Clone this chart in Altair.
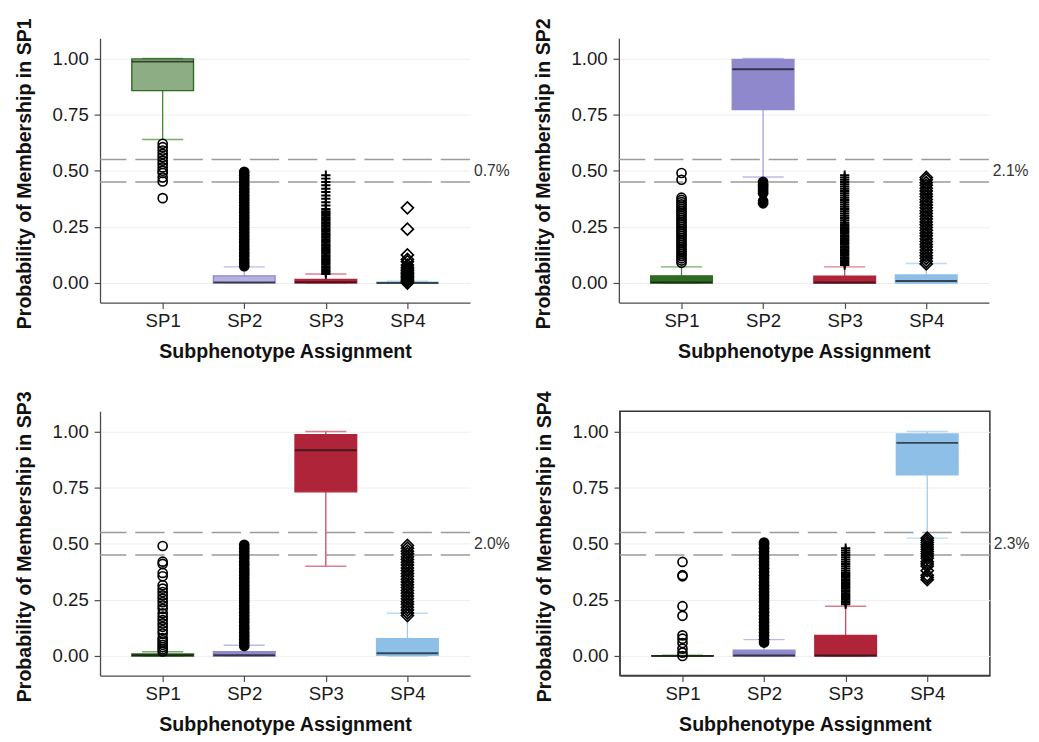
import altair as alt
import pandas as pd

groups = ["SP1", "SP2", "SP3", "SP4"]
panels = ["SP1", "SP2", "SP3", "SP4"]
percent_labels = ["0.7%", "2.1%", "2.0%", "2.3%"]
thresholds = [0.45, 0.55]
y_ticks = [0.0, 0.25, 0.5, 0.75, 1.0]

# box statistics per panel, per group: [lower whisker, q1, median, q3, upper whisker]
stats_p1 = [[0.639, 0.857, 0.986, 0.998, 1.0], [0.0, 0.0, 0.003, 0.032, 0.072],
            [0.0, 0.0, 0.004, 0.016, 0.040], [0.0, 0.0, 0.0, 0.004, 0.008]]
stats_p2 = [[0.0, 0.0, 0.003, 0.032, 0.072], [0.472, 0.773, 0.952, 0.996, 1.0],
            [0.0, 0.0, 0.002, 0.030, 0.072], [0.0, 0.0, 0.009, 0.036, 0.087]]
stats_p3 = [[0.0, 0.0, 0.003, 0.009, 0.019], [0.0, 0.0, 0.003, 0.019, 0.048],
            [0.40, 0.731, 0.916, 0.986, 1.0], [0.0, 0.003, 0.012, 0.077, 0.19]]
stats_p4 = [[0.0, 0.0, 0.0, 0.002, 0.004], [0.0, 0.0, 0.002, 0.026, 0.073],
            [0.0, 0.0, 0.002, 0.092, 0.222], [0.525, 0.807, 0.949, 0.989, 1.0]]

# outliers per panel, per group
out_p1 = [
    [0.378, 0.452, 0.47, 0.49, 0.50, 0.515, 0.53, 0.545, 0.56, 0.575, 0.59, 0.605, 0.62],
    [0.075, 0.09, 0.105, 0.12, 0.135, 0.15, 0.165, 0.18, 0.195, 0.21, 0.225, 0.24, 0.255, 0.27,
     0.285, 0.30, 0.315, 0.33, 0.345, 0.36, 0.375, 0.39, 0.405, 0.42, 0.435, 0.45, 0.465, 0.48, 0.495],
    [0.04, 0.047, 0.054, 0.061, 0.068, 0.075, 0.082, 0.089, 0.096, 0.103, 0.11, 0.117, 0.124, 0.131,
     0.138, 0.145, 0.152, 0.159, 0.166, 0.173, 0.18, 0.187, 0.194, 0.201, 0.208, 0.215, 0.222, 0.229,
     0.236, 0.243, 0.25, 0.257, 0.264, 0.271, 0.278, 0.285, 0.292, 0.299, 0.306, 0.313, 0.32, 0.33,
     0.345, 0.36, 0.375, 0.39, 0.405, 0.42, 0.435, 0.45, 0.465, 0.48],
    [0.0, 0.006, 0.012, 0.018, 0.024, 0.03, 0.036, 0.042, 0.048, 0.055, 0.062, 0.07, 0.08, 0.095,
     0.105, 0.125, 0.24, 0.335],
]
out_p2 = [
    [0.09, 0.10, 0.11, 0.12, 0.13, 0.14, 0.15, 0.16, 0.17, 0.18, 0.19, 0.20, 0.21, 0.22, 0.23, 0.24,
     0.25, 0.26, 0.27, 0.28, 0.29, 0.30, 0.31, 0.32, 0.33, 0.34, 0.35, 0.36, 0.37, 0.38, 0.46, 0.49],
    [0.355, 0.365, 0.40, 0.41, 0.42, 0.43, 0.44, 0.45],
    [0.08, 0.087, 0.094, 0.101, 0.108, 0.115, 0.122, 0.129, 0.136, 0.143, 0.15, 0.157, 0.164, 0.171,
     0.178, 0.185, 0.192, 0.199, 0.206, 0.213, 0.22, 0.227, 0.234, 0.241, 0.248, 0.255, 0.262, 0.27,
     0.28, 0.29, 0.30, 0.31, 0.32, 0.33, 0.34, 0.35, 0.36, 0.37, 0.38, 0.39, 0.40, 0.41, 0.42, 0.43,
     0.44, 0.45, 0.46, 0.47, 0.48],
    [0.085, 0.097, 0.11, 0.122, 0.135, 0.147, 0.16, 0.172, 0.185, 0.197, 0.21, 0.222, 0.235, 0.247,
     0.26, 0.272, 0.285, 0.297, 0.31, 0.322, 0.335, 0.347, 0.36, 0.372, 0.385, 0.397, 0.41, 0.422,
     0.435, 0.447, 0.46, 0.47],
]
out_p3 = [
    [0.02, 0.03, 0.04, 0.05, 0.06, 0.07, 0.08, 0.10, 0.115, 0.13, 0.145, 0.16, 0.175, 0.19, 0.21,
     0.225, 0.24, 0.255, 0.27, 0.285, 0.30, 0.315, 0.355, 0.37, 0.41, 0.42, 0.49],
    [0.045, 0.06, 0.075, 0.09, 0.105, 0.12, 0.135, 0.15, 0.165, 0.18, 0.195, 0.21, 0.225, 0.24, 0.255,
     0.27, 0.285, 0.30, 0.315, 0.33, 0.345, 0.36, 0.375, 0.39, 0.405, 0.42, 0.435, 0.45, 0.465, 0.48, 0.495],
    [],
    [0.18, 0.192, 0.205, 0.217, 0.23, 0.242, 0.255, 0.267, 0.28, 0.292, 0.305, 0.317, 0.33, 0.342,
     0.355, 0.367, 0.38, 0.392, 0.405, 0.417, 0.43, 0.442, 0.455, 0.467, 0.48, 0.492],
]
out_p4 = [
    [0.0, 0.015, 0.033, 0.058, 0.077, 0.092, 0.179, 0.222, 0.355, 0.36, 0.419],
    [0.06, 0.075, 0.09, 0.105, 0.12, 0.135, 0.15, 0.165, 0.18, 0.195, 0.21, 0.225, 0.24, 0.255, 0.27,
     0.285, 0.30, 0.315, 0.33, 0.345, 0.36, 0.375, 0.39, 0.405, 0.42, 0.435, 0.45, 0.465, 0.48, 0.495, 0.505],
    [0.23, 0.237, 0.244, 0.251, 0.258, 0.265, 0.272, 0.279, 0.286, 0.293, 0.30, 0.307, 0.314, 0.321,
     0.328, 0.335, 0.342, 0.349, 0.356, 0.363, 0.37, 0.38, 0.39, 0.40, 0.41, 0.42, 0.43, 0.44, 0.45,
     0.46, 0.47, 0.48],
    [0.34, 0.35, 0.36, 0.38, 0.40, 0.41, 0.42, 0.435, 0.445, 0.455, 0.465, 0.475, 0.485, 0.495,
     0.505, 0.515, 0.525],
]

all_stats = [stats_p1, stats_p2, stats_p3, stats_p4]
all_out = [out_p1, out_p2, out_p3, out_p4]

# styles
box_colors = {"SP1": "#2f6b20", "SP2": "#8f88cc", "SP3": "#b0243a", "SP4": "#8ebfe6"}
whisker_colors = {"SP1": "#3c8a2c", "SP2": "#a39cdf", "SP3": "#c84a5f", "SP4": "#9fcbee"}
box_opacity = {(0, "SP1"): 0.55, (0, "SP2"): 0.65}
FONT = "Liberation Sans"
W, H = 378, 270
BOX_W, CAP_W = 63, 42

y_scale = alt.Scale(domain=[-0.087, 1.09], nice=False, zero=False)
x_scale = alt.Scale(type="point", domain=groups, padding=0.768)
x_axis = alt.Axis(title="Subphenotype Assignment", labelAngle=0, grid=False,
                  labelPadding=3, titlePadding=12)


def make_panel(i):
    p = panels[i]
    y_axis = alt.Axis(title=f"Probability of Membership in {p}", values=y_ticks, format=".2f",
                      grid=True, labelPadding=6, titlePadding=18, titleY=H / 2 + 3)
    rows = []
    for g, s in zip(groups, all_stats[i]):
        rows.append({"group": g, "lo": s[0], "q1": s[1], "med": s[2], "q3": s[3], "hi": s[4],
                     "bcol": box_colors[g], "wcol": whisker_colors[g],
                     "op": box_opacity.get((i, g), 1.0)})
    bdf = pd.DataFrame(rows)
    X = alt.X("group:N", scale=x_scale, axis=x_axis)
    base = alt.Chart(bdf)

    thr = alt.Chart(pd.DataFrame({"t": thresholds})).mark_rule(
        color="#9a9a9a", strokeWidth=1.5, strokeDash=[30, 9]
    ).encode(y=alt.Y("t:Q", scale=y_scale, axis=y_axis))

    wlo = base.mark_rule(strokeWidth=1.3).encode(
        x=X, y=alt.Y("lo:Q", scale=y_scale, axis=y_axis), y2="q1:Q",
        color=alt.Color("wcol:N", scale=None))
    whi = base.mark_rule(strokeWidth=1.3).encode(
        x=X, y=alt.Y("q3:Q", scale=y_scale, axis=y_axis), y2="hi:Q",
        color=alt.Color("wcol:N", scale=None))
    cap_lo = base.mark_tick(size=CAP_W, thickness=1.5).encode(
        x=X, y=alt.Y("lo:Q", scale=y_scale, axis=y_axis), color=alt.Color("wcol:N", scale=None))
    cap_hi = base.mark_tick(size=CAP_W, thickness=1.5).encode(
        x=X, y=alt.Y("hi:Q", scale=y_scale, axis=y_axis), color=alt.Color("wcol:N", scale=None))
    box = base.mark_bar(size=BOX_W, strokeWidth=1.4).encode(
        x=X, y=alt.Y("q1:Q", scale=y_scale, axis=y_axis), y2="q3:Q",
        fill=alt.Fill("bcol:N", scale=None), stroke=alt.Stroke("bcol:N", scale=None),
        fillOpacity=alt.FillOpacity("op:Q", scale=None))
    med = base.mark_tick(size=BOX_W, thickness=2, color="#111111").encode(
        x=X, y=alt.Y("med:Q", scale=y_scale, axis=y_axis))

    layers = [thr, wlo, whi, cap_lo, cap_hi, box, med]

    shapes = [
        dict(shape="circle", filled=False, size=85, strokeWidth=1.7),
        dict(shape="circle", filled=True, size=120),
        dict(shape="M-1,0L1,0M0,-1L0,1", filled=False, size=90, strokeWidth=2),
        dict(shape="diamond", filled=False, size=150, strokeWidth=1.7),
    ]
    for g, vals, sh in zip(groups, all_out[i], shapes):
        if not vals:
            continue
        odf = pd.DataFrame({"group": [g] * len(vals), "v": vals})
        layers.append(alt.Chart(odf).mark_point(color="black", opacity=1, **sh).encode(
            x=X, y=alt.Y("v:Q", scale=y_scale, axis=y_axis)))

    txt = alt.Chart(pd.DataFrame({"ty": [0.5], "label": [percent_labels[i]]})).mark_text(
        align="left", baseline="middle", fontSize=16, font=FONT, color="#333333", dx=4
    ).encode(x=alt.value(W), y=alt.Y("ty:Q", scale=y_scale, axis=y_axis), text="label:N")
    layers.append(txt)

    ch = alt.layer(*layers).properties(width=W, height=H)
    if i == 3:
        ch = ch.properties(view=alt.ViewBackground(stroke="#333333", strokeWidth=1.5))
    return ch


p = [make_panel(i) for i in range(4)]
chart = alt.vconcat(
    alt.hconcat(p[0], p[1], spacing=24),
    alt.hconcat(p[2], p[3], spacing=24),
    spacing=29,
).configure_view(stroke=None).configure_axis(
    domainColor="#4a4a4a", domainWidth=1.3, tickColor="#4a4a4a", tickSize=6, tickWidth=1.2,
    labelFont=FONT, labelFontSize=19, labelColor="#1a1a1a",
    titleFont=FONT, titleFontSize=20, titleFontWeight="bold", titleColor="#111111",
    gridColor="#eeeeee", gridWidth=1,
).properties(padding={"left": 7, "top": 2, "right": 0, "bottom": 0})

chart.save("out.html", embed_options={"renderer": "svg", "actions": False})
